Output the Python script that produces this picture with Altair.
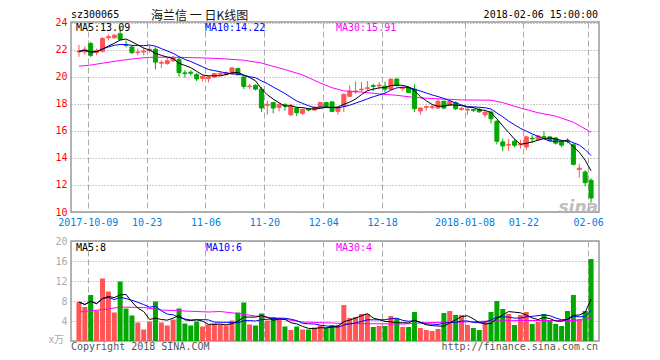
import json
import altair as alt
import pandas as pd

# ---------------- data ----------------
opens = [21.85, 21.85, 22.47, 21.82, 21.9, 22.9, 22.9, 23.2, 22.4, 22.22,
         21.8, 21.85, 21.95, 22.05, 21.02, 21.0, 21.2, 21.3, 20.3, 20.35,
         20.17, 19.9, 19.88, 20.0, 20.2, 20.18, 20.25, 20.62, 20.0, 19.28,
         19.38, 19.1, 17.9, 18.1, 17.75, 17.95, 17.2, 17.7, 17.3, 17.62,
         17.55, 17.78, 18.1, 18.15, 17.45, 17.83, 18.57, 18.9, 19.05, 19.15,
         19.36, 19.33, 19.31, 19.09, 19.85, 19.15, 19.2, 19.1, 17.48, 17.75,
         17.75, 17.7, 18.2, 17.9, 18.1, 17.6, 17.55, 17.58, 17.6, 17.2,
         17.4, 16.72, 15.19, 14.95, 15.24, 14.98, 14.81, 15.46, 15.38, 15.58,
         15.56, 15.48, 15.24, 15.33, 14.98, 13.15, 12.96, 12.35]
highs = [22.37, 22.27, 22.6, 22.1, 22.95, 23.16, 23.15, 23.7, 22.7, 22.3,
         22.1, 22.2, 22.3, 22.2, 21.23, 21.4, 21.55, 21.48, 20.5, 20.5,
         20.3, 20.1, 20.1, 20.3, 20.35, 20.4, 20.75, 20.7, 20.05, 19.5,
         19.45, 19.26, 18.25, 18.15, 18.05, 18.05, 18.0, 17.8, 17.65, 17.7,
         17.85, 18.15, 18.15, 18.2, 17.8, 18.75, 19.38, 19.68, 19.63, 19.7,
         19.5, 19.62, 19.65, 19.9, 19.9, 19.3, 19.3, 19.45, 17.75, 17.9,
         17.95, 18.3, 18.25, 18.3, 18.2, 17.8, 17.7, 17.65, 17.7, 17.45,
         17.5, 16.8, 15.43, 15.4, 15.4, 15.35, 15.64, 15.7, 15.7, 15.98,
         15.6, 15.55, 15.3, 15.45, 15.1, 13.58, 13.1, 12.5]
lows = [21.48, 21.65, 21.48, 21.6, 21.8, 22.72, 22.85, 22.7, 22.2, 21.7,
        21.6, 21.6, 21.8, 20.55, 20.67, 20.9, 21.1, 20.0, 19.95, 20.1,
        19.7, 19.65, 19.6, 19.9, 20.05, 20.1, 20.2, 20.1, 19.1, 19.1,
        19.0, 17.41, 17.2, 17.3, 17.45, 17.5, 17.1, 17.1, 17.2, 17.45,
        17.5, 17.7, 17.7, 17.4, 17.2, 17.4, 18.5, 18.76, 18.9, 19.0,
        18.95, 19.1, 18.85, 19.0, 19.3, 18.95, 18.8, 17.4, 17.2, 17.5,
        17.6, 17.6, 17.6, 17.85, 17.55, 17.5, 17.2, 17.4, 17.35, 17.0,
        16.55, 15.0, 14.5, 14.5, 14.8, 14.7, 14.6, 15.1, 15.3, 15.4,
        15.2, 15.0, 14.8, 15.1, 13.45, 12.54, 11.9, 10.7]
closes = [21.9, 22.05, 21.6, 21.95, 22.85, 22.98, 23.1, 22.78, 22.35, 21.8,
          21.85, 21.92, 22.05, 21.1, 21.08, 21.2, 21.4, 20.32, 20.25, 20.28,
          19.85, 20.05, 20.0, 20.25, 20.27, 20.32, 20.67, 20.17, 19.3, 19.33,
          19.1, 17.7, 17.97, 17.7, 17.95, 17.85, 17.9, 17.35, 17.6, 17.55,
          17.75, 18.1, 17.83, 17.45, 17.75, 18.72, 18.94, 18.96, 19.1, 19.2,
          19.3, 19.4, 19.1, 19.83, 19.35, 19.2, 18.85, 17.65, 17.7, 17.8,
          17.8, 18.2, 17.7, 18.2, 17.65, 17.68, 17.6, 17.52, 17.42, 17.4,
          16.9, 15.24, 14.89, 15.0, 14.94, 15.03, 15.56, 15.42, 15.63, 15.54,
          15.3, 15.1, 14.95, 15.28, 13.53, 13.25, 12.17, 11.04]
volumes = [7.8, 6.8, 9.2, 6.1, 12.5, 9.9, 5.7, 11.9, 6.5, 5.1,
           3.7, 2.3, 3.9, 7.9, 3.7, 3.1, 4.3, 6.5, 3.5, 3.1,
           3.9, 2.9, 3.3, 3.5, 3.3, 3.1, 4.1, 5.7, 7.7, 3.3,
           3.1, 5.5, 4.1, 4.8, 4.3, 2.9, 2.2, 2.9, 2.3, 2.3,
           2.7, 3.1, 2.7, 3.2, 3.2, 7.2, 4.6, 4.8, 5.4, 5.4,
           2.8, 3.0, 3.0, 5.0, 4.5, 2.8, 2.8, 5.8, 2.6, 2.2,
           2.0, 2.4, 5.6, 6.0, 5.2, 5.2, 3.2, 2.6, 2.2, 3.8,
           5.8, 8.0, 6.4, 5.4, 3.2, 5.2, 5.8, 3.4, 3.8, 5.4,
           4.0, 3.4, 3.0, 6.0, 9.2, 4.4, 6.0, 16.4]

tick_index = [2, 12, 22, 32, 42, 52, 66, 76, 87]
tick_labels = ["2017-10-09", "10-23", "11-06", "11-20", "12-04", "12-18",
               "2018-01-08", "01-22", "02-06"]
price_ticks = [10, 12, 14, 16, 18, 20, 22, 24]
volume_ticks = [4, 8, 12, 16, 20]

ma30_price_index = [0, 2, 4, 7, 10, 12, 15, 18, 21, 24, 28, 31, 35, 38, 41,
                    43, 45, 48, 51, 54, 57, 61, 65, 70, 72, 75, 78, 81, 84, 87]
ma30_price = [20.8, 20.88, 21.02, 21.22, 21.38, 21.45, 21.47, 21.44, 21.41,
              21.36, 21.24, 21.03, 20.55, 20.15, 19.55, 19.2, 18.97, 18.88,
              18.75, 18.64, 18.48, 18.38, 18.3, 18.28, 18.1, 17.7, 17.35,
              17.1, 16.65, 15.91]
ma30_vol_index = [0, 5, 7, 11, 14, 18, 22, 24, 27, 30, 34, 38, 43, 45, 55,
                  60, 65, 70, 75, 80, 84, 86, 87]
ma30_vol = [5.8, 6.4, 6.8, 6.7, 6.2, 6.0, 5.8, 5.9, 5.5, 5.0, 4.5, 3.8, 3.6,
            3.5, 3.4, 3.7, 3.8, 4.0, 4.1, 4.1, 4.1, 4.3, 4.6]

# ---------------- styling ----------------
RED = "#ff5555"
GREEN = "#00a800"
MONO = "DejaVu Sans Mono"
CJK = "Noto Sans CJK SC"
W = 528
H_PRICE = 190
H_VOL = 100
N = len(closes)

df = pd.DataFrame({
    "i": list(range(N)),
    "open": opens, "high": highs, "low": lows, "close": closes,
    "vol": volumes,
})
df["x"] = df["i"] + 0.5
df["dir"] = ["up" if c >= o else "down" for o, c in zip(opens, closes)]

ma30p = pd.DataFrame({"x": [i + 0.5 for i in ma30_price_index], "v": ma30_price})
ma30v = pd.DataFrame({"x": [i + 0.5 for i in ma30_vol_index], "v": ma30_vol})

xscale = alt.Scale(domain=[0, N], nice=False, zero=False)
color_scale = alt.Scale(domain=["up", "down"], range=[RED, GREEN])

label_expr = f"{json.dumps(tick_labels)}[indexof({json.dumps(tick_index)}, datum.value)]"

x_axis_price = alt.Axis(values=tick_index, labelExpr=label_expr, title=None,
                        grid=True, gridDash=[6, 3], gridColor="#aaaaaa", gridWidth=1,
                        domain=False, ticks=False, labelColor="#0080e0",
                        labelFont=MONO, labelFontSize=10, labelPadding=5,
                        labelFlush=10)
x_axis_vol = alt.Axis(values=tick_index, labels=False, title=None,
                      grid=True, gridDash=[6, 3], gridColor="#aaaaaa", gridWidth=1,
                      domain=False, ticks=False)
y_axis_price = alt.Axis(values=price_ticks, title=None, grid=True,
                        gridDash=[1, 2], gridColor="#999999", domain=False,
                        ticks=False, labelColor="#ff0000", labelFont=MONO,
                        labelFontSize=10, labelPadding=4, minExtent=62,
                        maxExtent=62)
y_axis_vol = alt.Axis(values=volume_ticks, title=None, grid=True,
                      gridDash=[1, 2], gridColor="#999999", domain=False,
                      ticks=False, labelColor="#aaaaaa", labelFont=MONO,
                      labelFontSize=10, labelPadding=4, minExtent=62,
                      maxExtent=62)

pscale = alt.Scale(domain=[10, 24.07], nice=False, zero=False)
vscale = alt.Scale(domain=[0, 20], nice=False, zero=True)

X_P = alt.X("x:Q", scale=xscale, axis=x_axis_price)
X_V = alt.X("x:Q", scale=xscale, axis=x_axis_vol)


def label(text, x, y, color, align="left", size=10, font=MONO,
          baseline="middle", **kw):
    return alt.Chart(pd.DataFrame({"t": [text]})).mark_text(
        align=align, baseline=baseline, color=color, font=font,
        fontSize=size, **kw
    ).encode(x=alt.value(x), y=alt.value(y), text="t:N")


base = alt.Chart(df)

wicks = base.mark_rule(strokeWidth=1).encode(
    x=X_P,
    y=alt.Y("low:Q", scale=pscale, axis=y_axis_price),
    y2="high:Q",
    color=alt.Color("dir:N", scale=color_scale, legend=None),
)
bodies = base.mark_bar(size=4, strokeWidth=1).encode(
    x=X_P,
    y=alt.Y("open:Q", scale=pscale, axis=y_axis_price),
    y2="close:Q",
    color=alt.Color("dir:N", scale=color_scale, legend=None),
    stroke=alt.Stroke("dir:N", scale=color_scale, legend=None),
)
ma5 = base.transform_window(
    ma5="mean(close)", frame=[-4, 0], sort=[alt.SortField("i")]
).mark_line(color="#000000", strokeWidth=1).encode(
    x=X_P, y=alt.Y("ma5:Q", scale=pscale, axis=y_axis_price))
ma10 = base.transform_window(
    ma10="mean(close)", frame=[-9, 0], sort=[alt.SortField("i")]
).mark_line(color="#0000ff", strokeWidth=1).encode(
    x=X_P, y=alt.Y("ma10:Q", scale=pscale, axis=y_axis_price))
ma30 = alt.Chart(ma30p).mark_line(color="#ff00ff", strokeWidth=1).encode(
    x=X_P, y=alt.Y("v:Q", scale=pscale, axis=y_axis_price))

price = alt.layer(
    wicks, bodies, ma30, ma10, ma5,
    label("MA5:13.09", 5, 6, "#000000"),
    label("MA10:14.22", 134, 6, "#0000ff"),
    label("MA30:15.91", 265, 6, "#ff00ff"),
    label("sz300065", 0, -7, "#000000"),
    label("2018-02-06 15:00:00", 527, -7, "#000000", align="right"),
    label("海兰信 一 日K线图", 80, -6.5, "#111111", size=12, font=CJK),
    label("sina", 527, 186, "#b0b0b0", align="right", size=17,
          font="DejaVu Sans", fontStyle="italic", fontWeight="bold",
          opacity=0.8),
).properties(width=W, height=H_PRICE)

vbars = base.mark_bar(size=5).encode(
    x=X_V,
    y=alt.Y("vol:Q", scale=vscale, axis=y_axis_vol),
    y2=alt.datum(0),
    color=alt.Color("dir:N", scale=color_scale, legend=None),
)
vma5 = base.transform_window(
    m="mean(vol)", frame=[-4, 0], sort=[alt.SortField("i")]
).mark_line(color="#000000", strokeWidth=1).encode(
    x=X_V, y=alt.Y("m:Q", scale=vscale, axis=y_axis_vol))
vma10 = base.transform_window(
    m="mean(vol)", frame=[-9, 0], sort=[alt.SortField("i")]
).mark_line(color="#0000ff", strokeWidth=1).encode(
    x=X_V, y=alt.Y("m:Q", scale=vscale, axis=y_axis_vol))
vma30 = alt.Chart(ma30v).mark_line(color="#ff00ff", strokeWidth=1).encode(
    x=X_V, y=alt.Y("v:Q", scale=vscale, axis=y_axis_vol))

volume = alt.layer(
    vbars, vma30, vma10, vma5,
    label("MA5:8", 5, 7, "#000000"),
    label("MA10:6", 135, 7, "#0000ff"),
    label("MA30:4", 265, 7, "#ff00ff"),
    label("x万", -7, 99, "#aaaaaa", align="right", size=10, font=CJK),
    label("Copyright 2018 SINA.COM", 0, 106, "#555555"),
    label("http://finance.sina.com.cn", 527, 106, "#555555", align="right"),
).properties(width=W, height=H_VOL)

chart = alt.vconcat(price, volume, spacing=7).resolve_scale(
    color="shared"
).configure_view(stroke="#999999", strokeWidth=1.5).properties(
    padding={"left": 0, "top": 0, "right": 5, "bottom": 0},
    background="white",
)

chart.save("out.html", embed_options={"renderer": "svg", "actions": False})
